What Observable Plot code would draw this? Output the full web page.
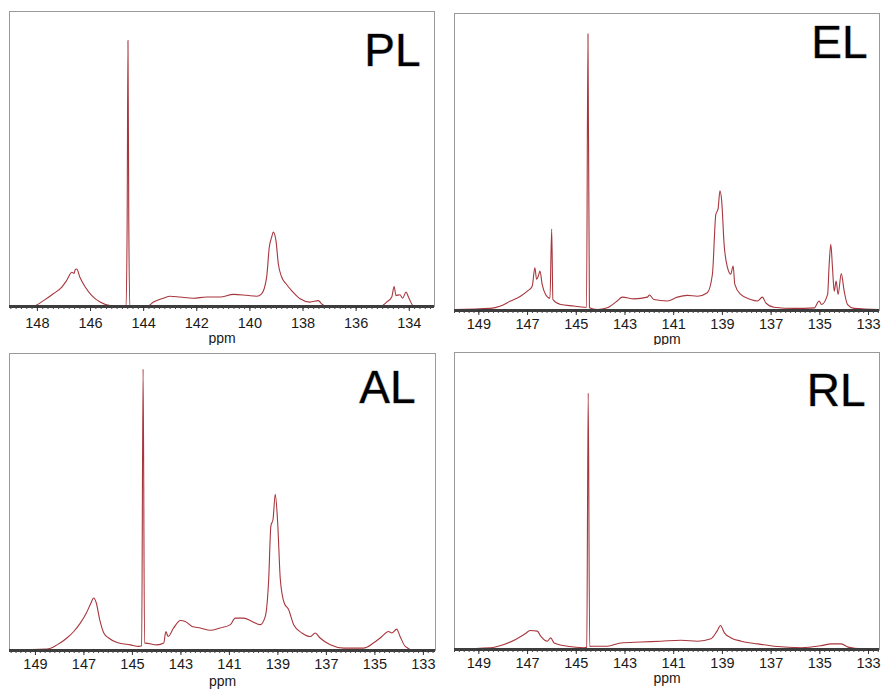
<!DOCTYPE html>
<html>
<head>
<meta charset="utf-8">
<script src="https://cdn.jsdelivr.net/npm/d3@7"></script>
<script src="https://cdn.jsdelivr.net/npm/@observablehq/plot@0.6"></script>
<style>
  html, body { margin: 0; padding: 0; background: #fff; }
  #wrap { position: relative; width: 882px; height: 695px; background: #fff; }
  .pane { position: absolute; }
</style>
</head>
<body>
<div id="wrap"></div>
<script>
// ---------------- DATA (ppm, intensity in % of panel height) ----------------
const panelLabels = ["PL", "EL", "AL", "RL"];
const tickLabelsPL = [148, 146, 144, 142, 140, 138, 136, 134];
const tickLabelsOther = [149, 147, 145, 143, 141, 139, 137, 135, 133];

const plPpm = [149.05, 148.2, 147.77, 147.4, 147.08, 146.9, 146.7, 146.62, 146.58, 146.52, 146.4, 146.2, 145.95, 145.64, 145.26, 144.76,
  144.66, 144.62, 144.59, 144.56, 144.52, 144.47, 143.88, 143.63, 143.26, 143.0, 142.63, 142.13, 141.63, 141.12, 140.62, 140.12, 139.74,
  139.56, 139.37, 139.27, 139.18, 139.12, 139.02, 138.93, 138.8, 138.64, 138.43, 138.11, 137.74, 137.42, 137.3, 137.05, 135.1, 134.85,
  134.66, 134.57, 134.5, 134.35, 134.25, 134.12, 134.03, 133.85, 133.05];
const plInt = [0, 0, 2.0, 4.3, 6.6, 8.8, 11.6, 11.2, 12.4, 12.7, 9.9, 6.6, 3.7, 1.5, 0.3, 0,
  0, 30, 90.2, 30, 0, 0, 0, 1.5, 2.8, 3.5, 3.2, 2.8, 3.2, 3.2, 4.1, 3.8, 3.5,
  4.3, 9.9, 20.1, 23.5, 25.2, 22.4, 14.5, 9.9, 7.7, 5.4, 2.6, 1.5, 2.0, 0.9, 0, 0, 1.5,
  3.2, 6.8, 3.7, 4.0, 2.8, 4.9, 3.2, 0.3, 0];

const elPpm = [150.0, 148.52, 148.11, 147.7, 147.29, 147.01, 146.81, 146.7, 146.63, 146.56, 146.49, 146.4, 146.26, 146.08, 146.01, 145.96,
  145.64, 145.1, 144.68, 144.58, 144.52, 144.46, 144.14, 143.73, 143.32, 143.11, 142.63, 142.08, 142.0, 141.81, 141.26, 140.85, 140.44,
  140.03, 139.62, 139.41, 139.27, 139.18, 139.1, 139.03, 138.93, 138.79, 138.66, 138.56, 138.49, 138.25, 137.84, 137.56, 137.36, 137.22,
  136.88, 136.05, 135.23, 135.03, 134.93, 134.68, 134.62, 134.55, 134.48, 134.41, 134.33, 134.25, 134.12, 134.0, 133.86, 133.59, 132.55];
const elInt = [0.3, 0.7, 1.5, 3.2, 4.8, 6.5, 8.2, 14.4, 10.5, 11.6, 13.3, 8.8, 5.4, 4.1, 27.4, 3.7,
  2.0, 1.5, 1.1, 1.1, 93.2, 0.9, 0.3, 0.9, 3.2, 4.5, 3.9, 4.5, 5.2, 3.7, 3.2, 4.5, 5.1,
  4.8, 6.0, 12.2, 32.4, 34.1, 40.3, 36.9, 22.3, 14.4, 12.2, 15.0, 8.8, 5.4, 3.7, 3.2, 4.5, 2.6,
  1.1, 0.7, 0.9, 3.2, 2.0, 5.4, 15.0, 22.3, 14.4, 6.5, 9.9, 5.4, 12.4, 6.5, 2.0, 0.7, 0.3];

const alPpm = [150.07, 148.52, 148.11, 147.7, 147.42, 147.15, 146.9, 146.71, 146.6, 146.49, 146.35, 146.18, 145.98, 145.63, 145.09, 144.74,
  144.62, 144.56, 144.5, 144.47, 143.99, 143.71, 143.62, 143.53, 143.3, 143.02, 142.82, 142.54, 142.2, 141.79, 141.38, 140.96, 140.76,
  140.41, 140.07, 139.73, 139.52, 139.38, 139.29, 139.2, 139.11, 139.01, 138.9, 138.74, 138.56, 138.35, 138.01, 137.67, 137.46, 137.26,
  136.84, 136.29, 135.47, 135.06, 134.71, 134.44, 134.3, 134.1, 133.96, 133.75, 133.41, 132.5];
const alInt = [0.2, 0.5, 1.9, 4.2, 6.4, 9.2, 12.6, 16.0, 17.7, 16.0, 10.4, 5.9, 4.2, 2.7, 1.9, 1.4,
  1.6, 94.7, 2.5, 2.5, 1.9, 2.5, 6.4, 4.7, 7.6, 10.1, 9.8, 8.1, 7.6, 6.8, 7.6, 8.7, 10.9,
  10.9, 9.8, 8.7, 11.5, 23.9, 41.9, 44.2, 52.6, 43.1, 23.9, 16.0, 13.8, 8.7, 5.9, 4.7, 5.9, 4.2,
  1.9, 0.8, 0.8, 2.5, 4.7, 6.4, 5.9, 7.2, 4.7, 1.4, 0.2, 0.2];

const rlPpm = [150.0, 148.52, 147.97, 147.49, 147.08, 146.9, 146.6, 146.46, 146.19, 146.05, 145.91, 145.37, 144.68, 144.57, 144.51, 144.45,
  144.4, 143.72, 143.17, 142.35, 141.52, 140.7, 140.01, 139.47, 139.22, 139.08, 138.92, 138.64, 138.23, 137.55, 136.86, 135.76, 134.94,
  134.53, 134.12, 133.84, 133.29, 132.55];
const rlInt = [0.2, 0.6, 1.7, 3.4, 5.4, 6.4, 6.2, 4.5, 2.8, 3.9, 2.2, 1.1, 0.6, 0.8, 86.3, 1.0,
  1.1, 1.1, 2.2, 2.5, 2.8, 3.1, 2.8, 3.6, 6.2, 8.1, 5.6, 3.9, 2.8, 1.9, 1.1, 0.6, 1.3,
  1.9, 1.9, 0.8, 0.2, 0.2];

// ---------------- DRAWING ----------------
const FONT = "'Liberation Sans', Arial, Helvetica, sans-serif";
const LINE = "#a8363d";

function minorTicks(lo, hi, step) {
  const out = [];
  for (let i = Math.ceil(lo / step); i * step <= hi + 1e-9; i++) out.push(+(i * step).toFixed(2));
  return out;
}

function panel(cfg) {
  const data = cfg.ppm.map((p, i) => ({ppm: p, v: cfg.inten[i]}));
  const lo = Math.min(...cfg.domain), hi = Math.max(...cfg.domain);
  return Plot.plot({
    width: cfg.width,
    height: cfg.height,
    marginLeft: cfg.ml,
    marginRight: cfg.mr,
    marginTop: cfg.mt,
    marginBottom: cfg.mb,
    style: {fontFamily: FONT, fontSize: "14px", color: "#222", background: "#fff", overflow: "visible"},
    x: {domain: cfg.domain},
    y: {domain: [0, 100], axis: null},
    marks: [
      Plot.frame({stroke: "#9a9a9a", strokeWidth: 1}),
      Plot.line(data, {x: "ppm", y: "v", stroke: LINE, strokeWidth: 1.1, curve: "monotone-x", clip: true}),
      Plot.ruleY([0], {stroke: "#3c3c3c", strokeWidth: 3}),
      Plot.axisX({ticks: minorTicks(lo, hi, 0.2), tickSize: 3, tickFormat: () => "", label: null, stroke: "#444"}),
      Plot.axisX({ticks: cfg.ticks, tickSize: 5, tickPadding: cfg.tp, label: null, stroke: "#333", fill: "#1a1a1a", fontSize: 14.5, tickFormat: d => String(d)}),
      Plot.text(["ppm"], {frameAnchor: "bottom", dy: cfg.ppmDy, fontSize: 14, fill: "#1a1a1a"}),
      Plot.text([cfg.label], {frameAnchor: "top-right", textAnchor: "end", lineAnchor: "top",
        dx: cfg.ldx, dy: cfg.ldy, fontSize: 46, fill: "#000", stroke: "#bbb", strokeWidth: 1.2, paintOrder: "stroke"})
    ]
  });
}

const wrap = document.getElementById("wrap");
const configs = [
  {label: panelLabels[0], ppm: plPpm, inten: plInt, domain: [149.05, 133.05], ticks: tickLabelsPL,
   left: 0, top: 0, width: 441, height: 345, ml: 9, mr: 7, mt: 11, mb: 39, tp: 6, ppmDy: 36, ldx: -14, ldy: 22},
  {label: panelLabels[1], ppm: elPpm, inten: elInt, domain: [150.0, 132.55], ticks: tickLabelsOther,
   left: 440, top: 0, width: 442, height: 345, ml: 14, mr: 3, mt: 13, mb: 35, tp: 3, ppmDy: 33, ldx: -12, ldy: 12},
  {label: panelLabels[2], ppm: alPpm, inten: alInt, domain: [150.07, 132.5], ticks: tickLabelsOther,
   left: 0, top: 345, width: 441, height: 350, ml: 9, mr: 6, mt: 8, mb: 45, tp: 3, ppmDy: 35, ldx: -20, ldy: 17},
  {label: panelLabels[3], ppm: rlPpm, inten: rlInt, domain: [150.0, 132.55], ticks: tickLabelsOther,
   left: 440, top: 345, width: 442, height: 350, ml: 14, mr: 3, mt: 7, mb: 46, tp: 3, ppmDy: 33, ldx: -14, ldy: 21}
];
for (const c of configs) {
  const svg = panel(c);
  const d = document.createElement("div");
  d.className = "pane";
  d.style.left = c.left + "px";
  d.style.top = c.top + "px";
  d.appendChild(svg);
  wrap.appendChild(d);
}
</script>
</body>
</html>
